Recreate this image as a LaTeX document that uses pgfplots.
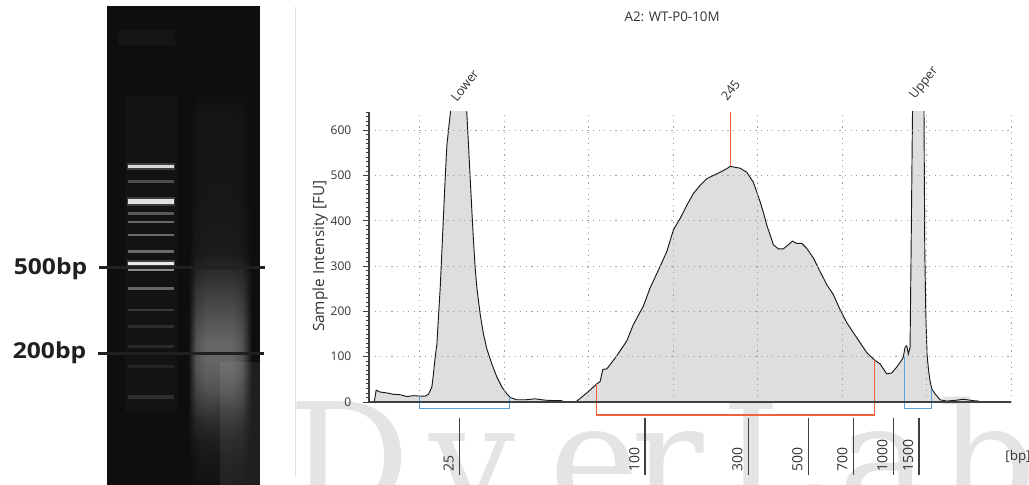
\documentclass[border=0pt]{standalone}
\usepackage{pgfplots}
\pgfplotsset{compat=1.18}
\usepackage{fontspec}
\setmainfont{Open Sans}
\newfontfamily\gelfont[FakeStretch=1.12]{Open Sans}
\newfontfamily\wmfont{DejaVu Serif}
\definecolor{axgray}{HTML}{404040}
\definecolor{txtgray}{HTML}{333333}
\definecolor{fillgray}{HTML}{DEDEDE}
\definecolor{markorange}{HTML}{F0643C}
\definecolor{markblue}{HTML}{5AA0DC}
\definecolor{wmgray}{HTML}{E4E4E4}
\definecolor{gelbg}{HTML}{0E0E0E}
\definecolor{bpline}{HTML}{231F20}

\pgfplotstableread{
t fu
34.62 0
34.85 26
35.33 22
36.12 20
36.90 17
37.69 16
38.49 12
39.27 14
40.06 13
40.65 13
41.04 17
41.44 33
41.63 62
41.83 99
42.04 128
42.22 187
42.43 252
42.63 333
42.82 413
43.02 494
43.22 567
43.67 645
44.62 1200
45.56 645
45.78 567
45.98 494
46.18 421
46.37 355
46.57 296
46.77 252
47.16 194
47.55 150
47.95 117
48.54 84
49.14 55
49.73 33
50.32 18
50.71 10
51.50 5
52.60 5
53.67 7
54.85 4
56.04 3
56.75 3
57.22 0
58.40 0
58.60 2
59.79 20
60.97 40
61.36 45
61.68 72
62.15 73
63.34 102
64.52 135
65.30 171
66.49 212
67.28 252
68.46 299
69.25 332
70.04 380
70.83 405
71.62 434
72.40 460
73.20 478
73.99 493
74.77 500
75.56 507
76.36 515
76.75 520
77.93 516
78.72 507
79.50 485
80.30 442
80.89 405
81.09 390
81.48 369
81.87 347
82.46 338
83.05 338
83.64 347
84.12 355
84.64 350
85.23 350
85.82 339
86.60 318
87.40 288
88.19 259
88.97 237
89.76 204
90.56 175
91.34 153
92.13 131
92.92 109
93.82 93
94.50 84
95.29 62
95.88 64
96.47 77
97.07 93
97.25 99
97.46 121
97.66 124
97.85 106
98.05 121
98.17 325
98.32 603
99.05 1800
99.70 645
99.79 340
99.91 200
100.06 106
100.24 70
100.41 47
100.62 29
101.01 18
101.60 5
102.39 2
103.57 4
104.32 6
104.76 5
105.54 3
106.13 2
}\trace

\begin{document}
\begin{tikzpicture}
\path[use as bounding box] (0pt,0pt) rectangle (771.75pt,363.75pt);

% ---------- gel background, ladder, watermark (pixel coordinates) ----------
\begin{axis}[at={(0pt,0pt)}, anchor=south west, scale only axis,
  width=771.75pt, height=363.75pt, xmin=0, xmax=1029, ymin=0, ymax=485,
  y dir=reverse, hide axis]
  % watermark
  \begin{scope}[every node/.style={font=\wmfont\fontsize{114}{114}\selectfont, text=wmgray, anchor=base, inner sep=0pt}]
  \node at (axis cs:349,512) {D};
  \node at (axis cs:472,512) {y};
  \node at (axis cs:594,512) {e};
  \node at (axis cs:668,512) {r};
  \node at (axis cs:772,512) {L};
  \node at (axis cs:884,512) {a};
  \node at (axis cs:988,512) {b};
  \end{scope}
  % panel border
  \addplot[gray!25, line width=0.75pt] coordinates {(295,7) (295,477)};
  % gel
  \addplot[fill=gelbg, draw=none] coordinates {(107,6) (260,6) (260,485) (107,485)} -- cycle;
  \addplot[fill=white, fill opacity=0.03, draw=none] coordinates {(118,30) (175,30) (175,45) (118,45)} -- cycle;
  \addplot[fill=white, fill opacity=0.025, draw=none] coordinates {(125,95) (177,95) (177,412) (125,412)} -- cycle;
  % ladder glow
  \addplot[white, opacity=0.18, line width=5.5pt] coordinates {(127,166.7) (175,166.7)};
  \addplot[white, opacity=0.18, line width=6.5pt] coordinates {(127,201.7) (175,201.7)};
  \addplot[white, opacity=0.18, line width=5.5pt] coordinates {(127,263.3) (175,263.3)};
  % ladder bands
  \addplot[white!85!black, line width=2.6pt] coordinates {(128,166.7) (174,166.7)};
  \addplot[white!30!black, line width=2.2pt] coordinates {(128,181.7) (174,181.7)};
  \addplot[white!88!black, line width=3.4pt] coordinates {(128,201.7) (174,201.7)};
  \addplot[white!35!black, line width=2.2pt] coordinates {(128,213.3) (174,213.3)};
  \addplot[white!42!black, line width=2.2pt] coordinates {(128,222.0) (174,222.0)};
  \addplot[white!42!black, line width=2.2pt] coordinates {(128,235.0) (174,235.0)};
  \addplot[white!42!black, line width=2.2pt] coordinates {(128,251.7) (174,251.7)};
  \addplot[white!92!black, line width=2.6pt] coordinates {(128,263.3) (174,263.3)};
  \addplot[white!55!black, line width=1.9pt] coordinates {(128,270.0) (174,270.0)};
  \addplot[white!40!black, line width=2.6pt] coordinates {(128,288.3) (174,288.3)};
  \addplot[white!22!black, line width=2.2pt] coordinates {(128,310.0) (174,310.0)};
  \addplot[white!18!black, line width=2.2pt] coordinates {(128,326.7) (174,326.7)};
  \addplot[white!16!black, line width=2.2pt] coordinates {(128,346.7) (174,346.7)};
  \addplot[white!14!black, line width=2.2pt] coordinates {(128,366.7) (174,366.7)};
  \addplot[white!18!black, line width=3pt] coordinates {(128,396.7) (174,396.7)};
\end{axis}

% ---------- sample smear ----------
\begin{axis}[at={(141pt,0pt)}, anchor=south west, scale only axis,
  width=48pt, height=300pt, xmin=188, xmax=252, ymin=85, ymax=485,
  y dir=reverse, view={0}{90}, hide axis, colormap/blackwhite,
  point meta min=0, point meta max=1]
  \addplot3[surf, shader=interp, mesh/cols=6, point meta=z] table {
x y z
188 85 0.05
196 85 0.05
206 85 0.05
232 85 0.05
242 85 0.05
252 85 0.05
188 110 0.05
196 110 0.074
206 110 0.08
232 110 0.08
242 110 0.074
252 110 0.05
188 200 0.05
196 200 0.082
206 200 0.09
232 200 0.09
242 200 0.082
252 200 0.05
188 255 0.05
196 255 0.098
206 255 0.11
232 255 0.11
242 255 0.098
252 255 0.05
188 270 0.05
196 270 0.146
206 270 0.17
232 270 0.17
242 270 0.146
252 270 0.05
188 290 0.05
196 290 0.202
206 290 0.24
232 290 0.24
242 290 0.202
252 290 0.05
188 310 0.05
196 310 0.25
206 310 0.30
232 310 0.30
242 310 0.25
252 310 0.05
188 330 0.05
196 330 0.298
206 330 0.36
232 330 0.36
242 330 0.298
252 330 0.05
188 345 0.05
196 345 0.33
206 345 0.40
232 345 0.40
242 345 0.33
252 345 0.05
188 360 0.05
196 360 0.33
206 360 0.40
232 360 0.40
242 360 0.33
252 360 0.05
188 375 0.05
196 375 0.306
206 375 0.37
232 375 0.37
242 375 0.306
252 375 0.05
188 390 0.05
196 390 0.266
206 390 0.32
232 390 0.32
242 390 0.266
252 390 0.05
188 405 0.05
196 405 0.21
206 405 0.25
232 405 0.25
242 405 0.21
252 405 0.05
188 420 0.05
196 420 0.154
206 420 0.18
232 420 0.18
242 420 0.154
252 420 0.05
188 440 0.05
196 440 0.106
206 440 0.12
232 440 0.12
242 440 0.106
252 440 0.05
188 460 0.05
196 460 0.082
206 460 0.09
232 460 0.09
242 460 0.082
252 460 0.05
188 485 0.05
196 485 0.066
206 485 0.07
232 485 0.07
242 485 0.066
252 485 0.05
};
\end{axis}

% ---------- size lines and labels on the gel ----------
\begin{axis}[at={(0pt,0pt)}, anchor=south west, scale only axis,
  width=771.75pt, height=363.75pt, xmin=0, xmax=1029, ymin=0, ymax=485,
  y dir=reverse, hide axis]
  \addplot[fill=white, fill opacity=0.07, draw=none] coordinates {(220,362) (260,362) (260,485) (220,485)} -- cycle;
  \addplot[bpline, line width=2.4pt] coordinates {(99,267.7) (265,267.7)};
  \addplot[bpline, line width=2.4pt] coordinates {(98,353.3) (264,353.3)};
  \node[anchor=base east, inner sep=0pt, text=bpline, font=\gelfont\bfseries\fontsize{16.5}{18}\selectfont] at (axis cs:87.5,274) {500bp};
  \node[anchor=base east, inner sep=0pt, text=bpline, font=\gelfont\bfseries\fontsize{16.5}{18}\selectfont] at (axis cs:86.5,358.3) {200bp};
\end{axis}

% ---------- electropherogram ----------
\begin{axis}[at={(276.75pt,62.25pt)}, anchor=south west, scale only axis,
  width=481.5pt, height=217.5pt,
  xmin=34, xmax=110, ymin=0, ymax=640,
  axis lines*=left,
  axis line style={draw=axgray, line width=1.5pt},
  xtick={40,50,...,110}, xticklabels={}, xtick style={draw=none},
  ytick={0,100,...,600}, minor ytick={0,10,...,640},
  tick align=outside, major tick length=4.3pt, minor tick length=2.5pt,
  ytick style={draw=axgray, line width=0.6pt},
  minor tick style={draw=axgray, line width=0.5pt},
  xmajorgrids, ymajorgrids,
  major grid style={dash pattern=on 0.9pt off 3.3pt, draw=gray!75, line width=0.6pt},
  /pgf/number format/assume math mode=true,
  yticklabel style={font=\fontsize{9}{10}\selectfont, text=txtgray, xshift=-5.5pt},
  ylabel={Sample Intensity [FU]},
  every axis y label/.style={at={(axis description cs:-0.0763,0.503)}, rotate=90, anchor=center,
     font=\fontsize{11.5}{13}\selectfont, text=txtgray},
  axis on top, clip mode=individual]
  \addplot[draw=black!90, line width=0.7pt, fill=fillgray] table[x=t, y=fu] {\trace} \closedcycle;
  \addplot[markorange, line width=0.9pt] coordinates {(76.75,520) (76.75,640)};
  % integration brackets
  \draw[markblue, line width=1pt] (axis cs:40.0,13) -- (axis cs:40.0,-14.3) -- (axis cs:50.65,-14.3) -- (axis cs:50.65,12);
  \draw[markorange, line width=1pt] (axis cs:60.97,40) -- (axis cs:60.97,-28.7) -- (axis cs:93.85,-28.7) -- (axis cs:93.85,93);
  \draw[markblue, line width=1pt] (axis cs:97.37,100) -- (axis cs:97.37,-14.3) -- (axis cs:100.62,-14.3) -- (axis cs:100.62,29);
  % bp scale
  \begin{scope}[every node/.style={rotate=90, anchor=south west, inner sep=0pt, text=txtgray, font=\fontsize{10.5}{12}\selectfont}]
  \draw[axgray, line width=1pt] (axis cs:44.71,-35.3) -- (axis cs:44.71,-161.1);
  \node at (axis cs:44.06,-154.5) {25};
  \draw[axgray, line width=1pt] (axis cs:66.69,-35.3) -- (axis cs:66.69,-161.1);
  \node at (axis cs:66.04,-154.5) {100};
  \draw[axgray, line width=1pt] (axis cs:78.91,-35.3) -- (axis cs:78.91,-161.1);
  \node at (axis cs:78.26,-154.5) {300};
  \draw[axgray, line width=1pt] (axis cs:86.01,-35.3) -- (axis cs:86.01,-161.1);
  \node at (axis cs:85.36,-154.5) {500};
  \draw[axgray, line width=1pt] (axis cs:91.34,-35.3) -- (axis cs:91.34,-161.1);
  \node at (axis cs:90.69,-154.5) {700};
  \draw[axgray, line width=1pt] (axis cs:96.07,-35.3) -- (axis cs:96.07,-161.1);
  \node at (axis cs:95.42,-154.5) {1000};
  \draw[axgray, line width=1pt] (axis cs:99.11,-35.3) -- (axis cs:99.11,-161.1);
  \node at (axis cs:98.46,-154.5) {1500};
  \end{scope}
  \node[text=txtgray, font=\fontsize{10}{12}\selectfont] at (axis cs:110.83,-121.4) {[bp]};
  % peak labels
  \begin{scope}[every node/.style={rotate=52, anchor=south west, inner sep=0pt, text=txtgray, font=\fontsize{9.5}{11}\selectfont}]
  \node at (axis cs:44.45,660) {Lower};
  \node at (axis cs:76.45,662) {245};
  \node at (axis cs:98.95,662) {Upper};
  \end{scope}
  \node[text=txtgray, font=\fontsize{10}{12}\selectfont] at (axis cs:69.88,849.7) {A2: WT-P0-10M};
\end{axis}
\end{tikzpicture}
\end{document}
